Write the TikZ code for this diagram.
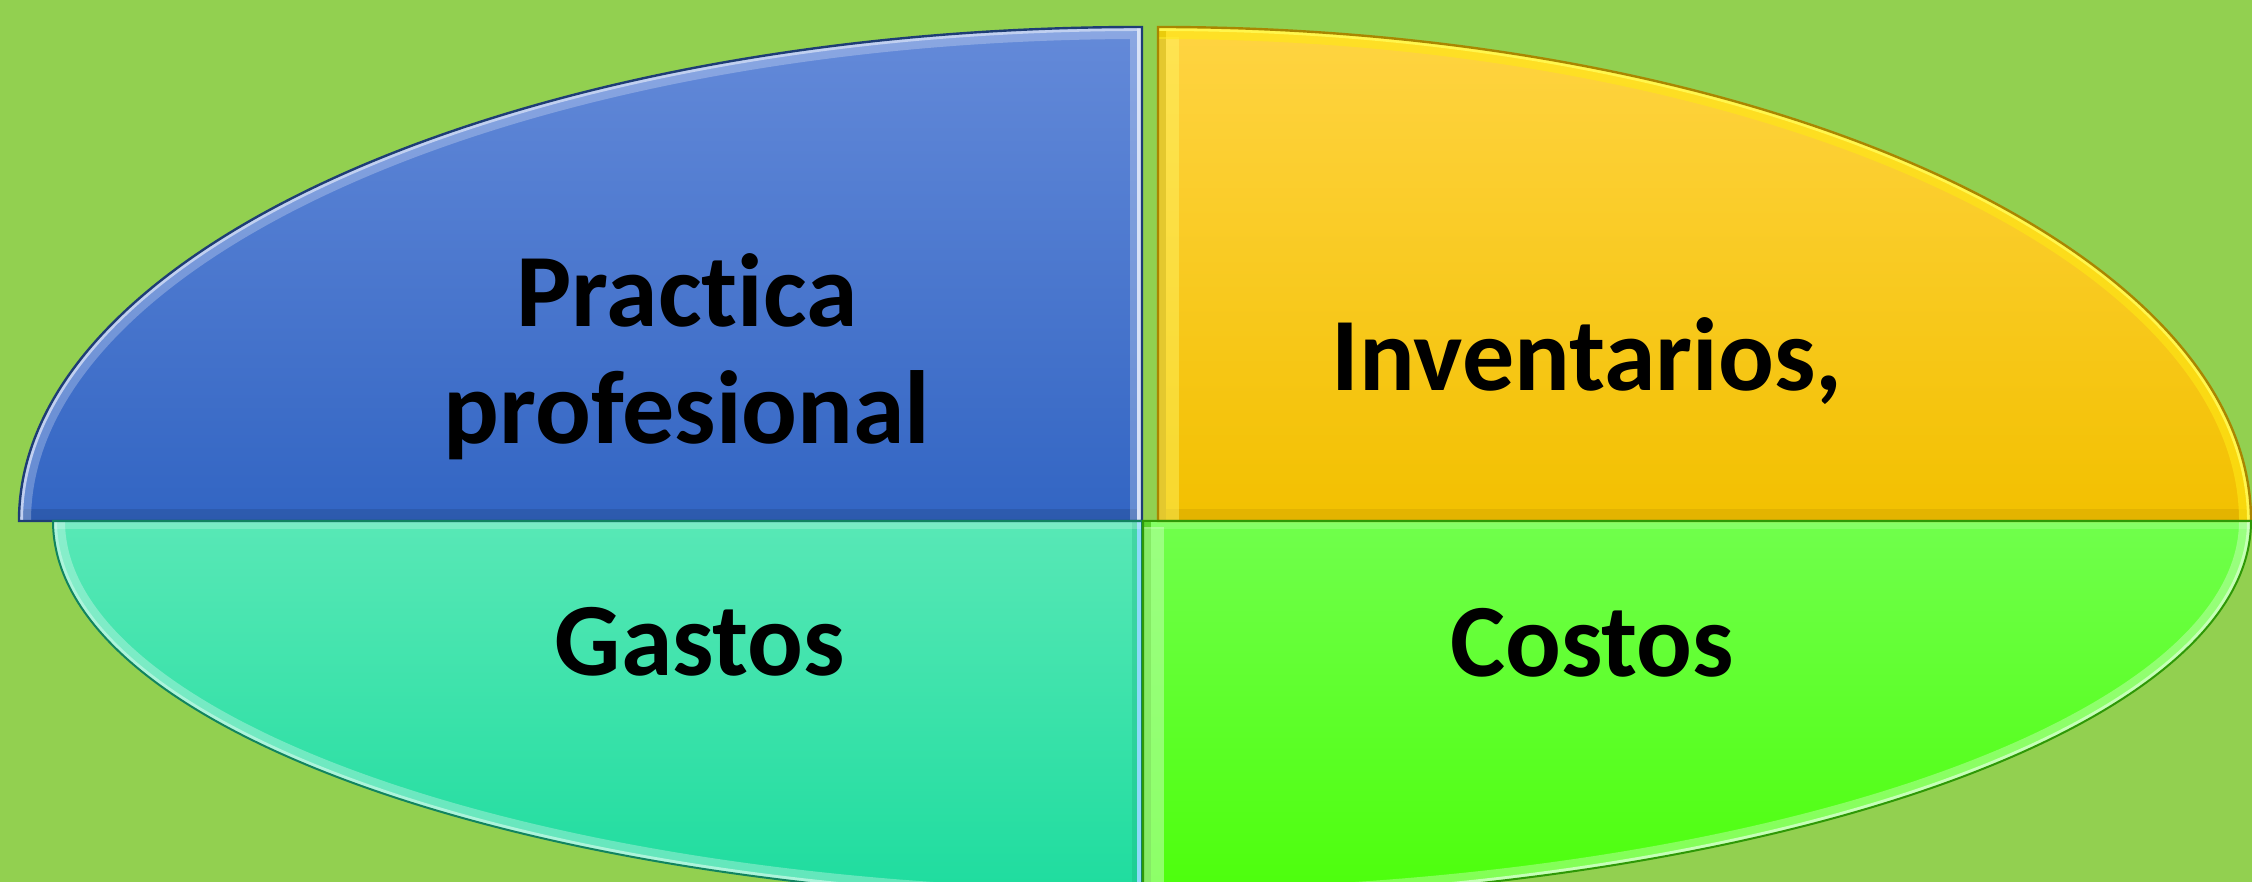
\documentclass[tikz,border=0pt]{standalone}
\usepackage{fontspec}
\setmainfont{Carlito}[Ligatures={NoCommon}]
\begin{document}
\begin{tikzpicture}[x=0.5pt,y=0.5pt,
  qblue/.style={insert path={(19,361) arc[start angle=180,end angle=90,x radius=1123,y radius=494] -- (1142,361) -- cycle}},
  qyellow/.style={insert path={(1158,361) -- (1158,855) arc[start angle=90,end angle=0,x radius=1093,y radius=494] -- cycle}},
  qteal/.style={insert path={(53,361) arc[start angle=180,end angle=270,x radius=1089,y radius=380] -- (1142,361) -- cycle}},
  qgreen/.style={insert path={(1143,361) -- (1143,-19) arc[start angle=270,end angle=360,x radius=1108,y radius=380] -- cycle}},
  lbl/.style={font=\fontsize{52}{58.5}\selectfont\bfseries, text=black, inner sep=0pt, align=center}
]
\definecolor{bg}{HTML}{92D050}
\definecolor{blueT}{HTML}{648AD9}
\definecolor{blueB}{HTML}{3265C3}
\definecolor{yelT}{HTML}{FFD442}
\definecolor{yelB}{HTML}{F2C000}
\definecolor{tealT}{HTML}{58E8B6}
\definecolor{tealB}{HTML}{1DDC9E}
\definecolor{grnT}{HTML}{70FF4C}
\definecolor{grnB}{HTML}{4CFF0A}
\useasboundingbox (0,0) rectangle (2252,882);
\fill[bg] (0,0) rectangle (2252,882);
\begin{scope}
\clip (0,0) rectangle (2252,882);
% fills
\shade[qblue, top color=blueT, bottom color=blueB];
\shade[qyellow, top color=yelT, bottom color=yelB];
\shade[qteal, top color=tealT, bottom color=tealB];
\shade[qgreen, top color=grnT, bottom color=grnB];
% bevels blue
\begin{scope}
\clip[qblue];
\draw[line width=12pt, blueB!70!black, opacity=.35] (19,361) -- (1142,361);
\draw[line width=12pt, white, opacity=.25] (19,361) arc[start angle=180,end angle=90,x radius=1123,y radius=494] -- (1142,361);
\draw[line width=4pt, white!60!blueT] (19,361) arc[start angle=180,end angle=90,x radius=1123,y radius=494];
\draw[line width=5pt, white!75!blueT] (1142,855) -- (1142,361);
\end{scope}
% bevels yellow
\begin{scope}
\clip[qyellow];
\draw[line width=12pt, yelB!80!black, opacity=.3] (1158,361) -- (2251,361);
\draw[line width=8pt, yelB!85!black] (1158,361) -- (1158,855);
\draw[line width=14pt, white!40!yellow, opacity=.45] (1165,361) -- (1165,845);
\draw[line width=12pt, yellow!70!yelT, opacity=.6] (1158,855) arc[start angle=90,end angle=0,x radius=1093,y radius=494];
\draw[line width=4pt, white!30!yellow] (1158,855) arc[start angle=90,end angle=0,x radius=1093,y radius=494];
\end{scope}
% bevels teal
\begin{scope}
\clip[qteal];
\draw[line width=12pt, white, opacity=.3] (53,361) arc[start angle=180,end angle=270,x radius=1089,y radius=380];
\draw[line width=4pt, white!50!tealT] (53,361) arc[start angle=180,end angle=270,x radius=1089,y radius=380];
\draw[line width=10pt, tealB!80!black, opacity=.3] (1142,361) -- (1142,-19);
\draw[line width=5pt, white!55!cyan] (1142,361) -- (1142,-19);
\draw[line width=8pt, white, opacity=.2] (53,361) -- (1142,361);
\end{scope}
% bevels green
\begin{scope}
\clip[qgreen];
\draw[line width=8pt, grnB!80!black] (1143,361) -- (1143,-19);
\draw[line width=12pt, white!50!grnT, opacity=.6] (1152,355) -- (1152,-19);
\draw[line width=12pt, white, opacity=.3] (1143,-19) arc[start angle=270,end angle=360,x radius=1108,y radius=380];
\draw[line width=4pt, white!60!grnT] (1143,-19) arc[start angle=270,end angle=360,x radius=1108,y radius=380];
\draw[line width=8pt, white, opacity=.15] (1143,361) -- (2251,361);
\end{scope}
% outlines
\draw[line width=1.2pt, blueB!60!black, qblue];
\draw[line width=1.2pt, yelB!70!black, qyellow];
\draw[line width=1pt, tealB!60!black, qteal];
\draw[line width=1pt, grnB!60!black, qgreen];
\end{scope}
% labels
\node[lbl, anchor=base] (practica) at (687,438) {Practica\\profesional};
\node[lbl, anchor=base] (inventarios) at (1587,491) {Inventarios,};
\node[lbl, anchor=base] (gastos) at (700,206) {Gastos};
\node[lbl, anchor=base] (costos) at (1592,205) {Costos};
\end{tikzpicture}
\end{document}
